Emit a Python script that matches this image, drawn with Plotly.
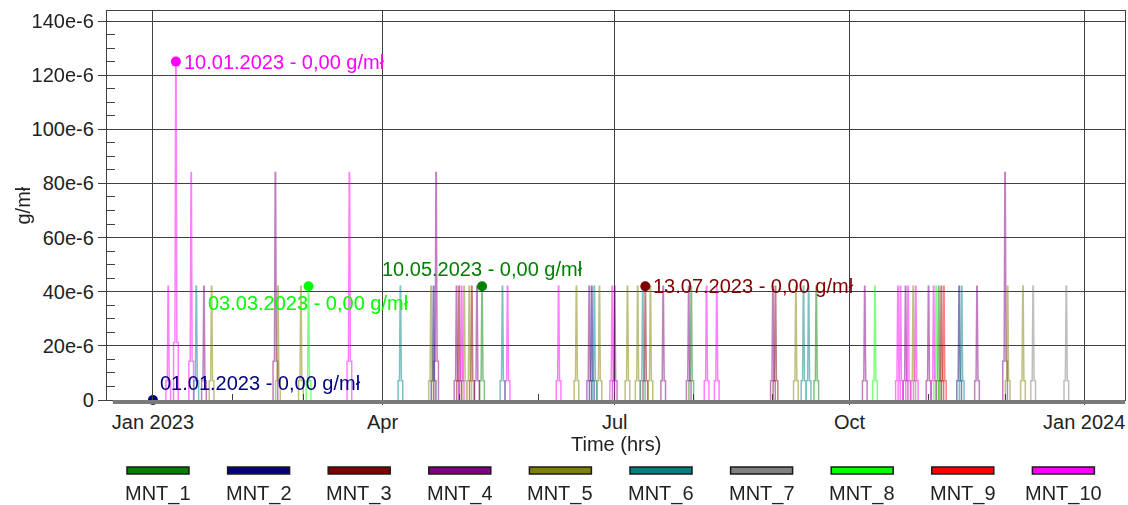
import plotly.graph_objects as go
from datetime import datetime, timedelta

# ---------------- data ----------------
SERIES = ["MNT_1", "MNT_2", "MNT_3", "MNT_4", "MNT_5",
          "MNT_6", "MNT_7", "MNT_8", "MNT_9", "MNT_10"]
COLORS = ["#008000", "#000080", "#800000", "#800080", "#808000",
          "#008080", "#808080", "#00ff00", "#ff0000", "#ff00ff"]

MNT_1_dates = ["2023-05-10", "2023-07-31", "2023-09-18", "2023-11-05"]
MNT_1_peaks = [42e-6, 42e-6, 42e-6, 42e-6]

MNT_2_dates = ["2023-04-21", "2023-06-22", "2023-11-13"]
MNT_2_peaks = [42e-6, 42e-6, 42e-6]

MNT_3_dates = ["2023-05-01", "2023-05-06", "2023-07-13", "2023-09-02", "2023-11-06"]
MNT_3_peaks = [42e-6, 42e-6, 42e-6, 42e-6, 42e-6]

MNT_4_dates = ["2023-01-21", "2023-02-18", "2023-04-22", "2023-04-30", "2023-05-08",
               "2023-06-21", "2023-07-01", "2023-07-20", "2023-07-30", "2023-09-01",
               "2023-10-07", "2023-10-23", "2023-11-01", "2023-11-20", "2023-12-01"]
MNT_4_peaks = [42e-6, 84e-6, 84e-6, 42e-6, 42e-6,
               42e-6, 42e-6, 42e-6, 42e-6, 42e-6,
               42e-6, 42e-6, 42e-6, 42e-6, 84e-6]

MNT_5_dates = ["2023-01-24", "2023-02-19", "2023-02-28", "2023-04-20", "2023-05-03",
               "2023-05-05", "2023-06-16", "2023-06-25", "2023-07-06", "2023-07-10",
               "2023-07-15", "2023-09-10", "2023-10-26", "2023-12-02", "2023-12-08"]
MNT_5_peaks = [42e-6, 42e-6, 42e-6, 42e-6, 42e-6,
               42e-6, 42e-6, 42e-6, 42e-6, 42e-6,
               42e-6, 42e-6, 42e-6, 42e-6, 42e-6]

MNT_6_dates = ["2023-01-18", "2023-04-08", "2023-05-18", "2023-06-23",
               "2023-07-12", "2023-09-13", "2023-09-15", "2023-11-14"]
MNT_6_peaks = [42e-6, 42e-6, 42e-6, 42e-6, 42e-6, 42e-6, 42e-6, 42e-6]

MNT_7_dates = ["2023-12-12", "2023-12-25"]
MNT_7_peaks = [42e-6, 42e-6]

MNT_8_dates = ["2023-03-03", "2023-10-11", "2023-11-04"]
MNT_8_peaks = [42e-6, 42e-6, 42e-6]

MNT_9_dates = ["2023-11-07"]
MNT_9_peaks = [42e-6]

MNT_10_dates = ["2023-01-07", "2023-01-10", "2023-01-16", "2023-03-19", "2023-05-02",
                "2023-05-20", "2023-06-09", "2023-06-30", "2023-08-06", "2023-08-10",
                "2023-10-20", "2023-10-21", "2023-10-24", "2023-10-27", "2023-11-03"]
MNT_10_peaks = [42e-6, 125e-6, 84e-6, 84e-6, 42e-6,
                42e-6, 42e-6, 42e-6, 42e-6, 42e-6,
                42e-6, 42e-6, 42e-6, 42e-6, 42e-6]

EVENT_DATES = [MNT_1_dates, MNT_2_dates, MNT_3_dates, MNT_4_dates, MNT_5_dates,
               MNT_6_dates, MNT_7_dates, MNT_8_dates, MNT_9_dates, MNT_10_dates]
EVENT_PEAKS = [MNT_1_peaks, MNT_2_peaks, MNT_3_peaks, MNT_4_peaks, MNT_5_peaks,
               MNT_6_peaks, MNT_7_peaks, MNT_8_peaks, MNT_9_peaks, MNT_10_peaks]

# marked points (series index, date, value)
MARK_SERIES = [9, 1, 7, 0, 2]
MARK_DATES = ["2023-01-10", "2023-01-01", "2023-03-03", "2023-05-10", "2023-07-13"]
MARK_VALUES = [125e-6, 0.0, 42e-6, 42e-6, 42e-6]

Y_TICKS = [0, 20e-6, 40e-6, 60e-6, 80e-6, 100e-6, 120e-6, 140e-6]
Y_TICK_TEXT = ["0", "20e-6", "40e-6", "60e-6", "80e-6", "100e-6", "120e-6", "140e-6"]
X_TICKS = ["2023-01-01", "2023-04-01", "2023-07-01", "2023-10-01", "2024-01-01"]
X_TICK_TEXT = ["Jan 2023", "Apr", "Jul", "Oct", "Jan 2024"]

# ---------------- spike profile (hourly step levels of each event) ----------------
# (hour offset, fraction of peak) outline of a single event
PROFILE = [(-22, 0.0), (-22, 0.17), (-9, 0.17), (-9, 0.83), (-2, 0.83), (-2, 1.0),
           (2, 1.0), (2, 0.83), (9, 0.83), (9, 0.17), (22, 0.17), (22, 0.0)]


def build(dates, peaks):
    xs, ys = [], []
    for d, p in zip(dates, peaks):
        c = datetime.strptime(d, "%Y-%m-%d")
        for h, f in PROFILE:
            xs.append(c + timedelta(hours=h))
            ys.append(f * p)
        xs.append(None)
        ys.append(None)
    return xs, ys


FONT = "Liberation Sans, Arial, sans-serif"
FS = 20
GRID = "#404040"
fig = go.Figure()

for name, col, dts, pks in zip(SERIES, COLORS, EVENT_DATES, EVENT_PEAKS):
    xs, ys = build(dts, pks)
    fig.add_trace(go.Scatter(x=xs, y=ys, mode="lines", name=name,
                             line=dict(color=col, width=1.5), opacity=0.5,
                             showlegend=False, connectgaps=False))

# markers + annotations
ann_style = [
    dict(xanchor="left", yanchor="middle", xshift=6, yshift=0),
    dict(xanchor="left", yanchor="middle", xshift=5, yshift=17),
    dict(xanchor="center", yanchor="middle", xshift=0, yshift=-17),
    dict(xanchor="center", yanchor="middle", xshift=0, yshift=17),
    dict(xanchor="left", yanchor="middle", xshift=6, yshift=0),
]
for si, d, v, st in zip(MARK_SERIES, MARK_DATES, MARK_VALUES, ann_style):
    col = COLORS[si]
    fig.add_trace(go.Scatter(x=[d], y=[v], mode="markers", showlegend=False,
                             marker=dict(color=col, size=10), cliponaxis=False))
    dt = datetime.strptime(d, "%Y-%m-%d")
    label = dt.strftime("%d.%m.%Y") + " - 0,00 g/mł"
    fig.add_annotation(x=d, y=v, text=label, showarrow=False,
                       font=dict(family=FONT, size=FS, color=col), **st)

# ---------------- layout ----------------
L, R, T, B = 107, 3, 11, 105
W, H = 1128, 505
pw, ph = W - L - R, H - T - B

fig.update_layout(
    width=W, height=H,
    margin=dict(l=L, r=R, t=T, b=B, autoexpand=False),
    paper_bgcolor="white", plot_bgcolor="white",
    font=dict(family=FONT, size=FS, color="#222222"),
    showlegend=False,
)
fig.update_xaxes(
    type="date", range=["2022-12-14", "2024-01-17"], automargin=False,
    tickvals=X_TICKS, ticktext=X_TICK_TEXT,
    showgrid=True, gridcolor=GRID, gridwidth=1.2,
    ticks="outside", ticklen=4, tickcolor=GRID,
    showline=True, mirror=True, linecolor=GRID, linewidth=1.2,
    minor=dict(dtick="M1", tick0="2023-01-01", ticks="inside", ticklen=6,
               tickcolor=GRID, showgrid=False),
    zeroline=False,
)
fig.update_yaxes(
    range=[0, 143.7e-6], automargin=False,
    tickvals=Y_TICKS, ticktext=Y_TICK_TEXT,
    showgrid=True, gridcolor=GRID, gridwidth=1.2,
    ticks="outside", ticklen=8, tickcolor=GRID,
    showline=True, mirror=True, linecolor=GRID, linewidth=1.2,
    minor=dict(dtick=5e-6, tick0=0, ticks="inside", ticklen=8,
               tickcolor=GRID, showgrid=False),
    zeroline=False,
)

# axis titles
fig.add_annotation(xref="paper", yref="paper", x=(616 - L) / pw,
                   y=-(444 - (T + ph)) / ph, text="Time (hrs)", showarrow=False,
                   xanchor="center", yanchor="middle", font=dict(size=FS))
fig.add_annotation(xref="paper", yref="paper", x=-(L - 22) / pw,
                   y=0.5, text="g/mł", showarrow=False, textangle=-90,
                   xanchor="center", yanchor="middle", font=dict(size=FS))

# 3D-style floor bar under the plot
fig.add_shape(type="rect", xref="paper", yref="paper",
              x0=6 / pw, x1=1.0, y0=-4 / ph, y1=0,
              fillcolor="#7a7a7a", line=dict(width=0), layer="above")

# custom legend: bar above, label below
for i, (name, col) in enumerate(zip(SERIES, COLORS)):
    cx = 158 + i * 100.6
    x0 = (cx - 31 - L) / pw
    x1 = (cx + 31 - L) / pw
    y0 = -(467 + 7 - (T + ph)) / ph
    y1 = -(467 - (T + ph)) / ph
    fig.add_shape(type="rect", xref="paper", yref="paper",
                  x0=x0, x1=x1, y0=y0, y1=y1,
                  fillcolor=col, line=dict(color="#1a1a1a", width=1.5))
    fig.add_annotation(xref="paper", yref="paper", x=(cx - L) / pw,
                       y=-(493 - (T + ph)) / ph, text=name, showarrow=False,
                       xanchor="center", yanchor="middle",
                       font=dict(family=FONT, size=FS, color="#222222"))

fig.write_html("out.html",
               config={"displayModeBar": False},
               post_script="document.body.style.margin='0px';"
                           "document.body.style.overflow='hidden';")
